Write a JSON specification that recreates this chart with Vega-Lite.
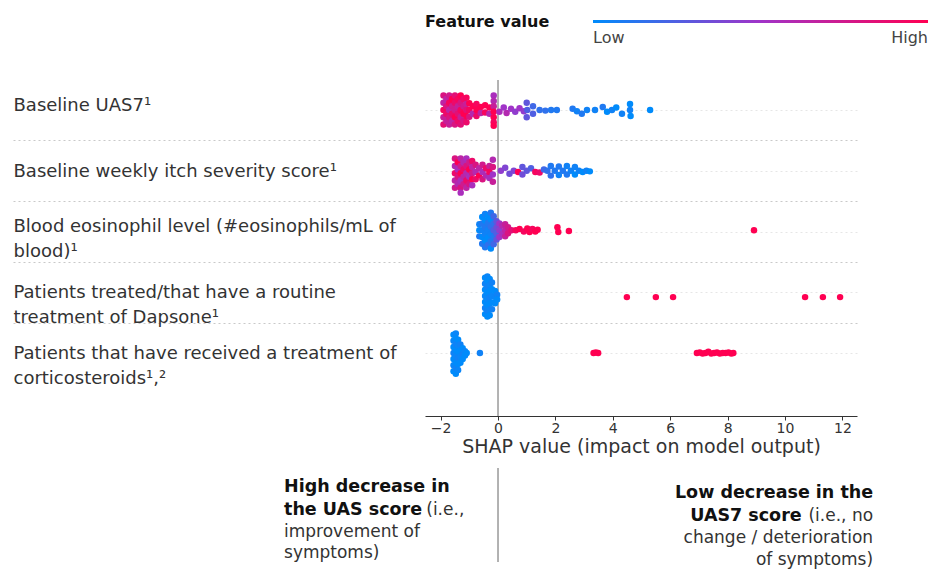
{
  "$schema": "https://vega.github.io/schema/vega-lite/v6.json",
  "width": 432,
  "height": 336,
  "autosize": {"type": "none"},
  "padding": {"left": 425, "top": 80, "right": 94, "bottom": 153},
  "background": "white",
  "config": {"view": {"stroke": null}, "font": "DejaVu Sans"},
  "datasets": {
    "shap": [
      {"shap":-1.9,"lane":-0.24,"fv":0.8},{"shap":-1.9,"lane":-0.12,"fv":0.65},{"shap":-1.9,"lane":0,"fv":0.95},{"shap":-1.9,"lane":0.12,"fv":0.7},{"shap":-1.9,"lane":0.24,"fv":0.85},
      {"shap":-1.8,"lane":-0.18,"fv":0.65},{"shap":-1.8,"lane":-0.06,"fv":0.8},{"shap":-1.8,"lane":0.06,"fv":0.9},{"shap":-1.8,"lane":0.18,"fv":0.7},
      {"shap":-1.7,"lane":-0.24,"fv":0.75},{"shap":-1.7,"lane":-0.12,"fv":0.95},{"shap":-1.7,"lane":0,"fv":0.65},{"shap":-1.7,"lane":0.12,"fv":0.8},{"shap":-1.7,"lane":0.24,"fv":0.7},
      {"shap":-1.6,"lane":-0.18,"fv":1},{"shap":-1.6,"lane":-0.06,"fv":0.75},{"shap":-1.6,"lane":0.06,"fv":0.9},{"shap":-1.6,"lane":0.18,"fv":0.65},
      {"shap":-1.5,"lane":-0.24,"fv":0.85},{"shap":-1.5,"lane":-0.12,"fv":0.9},{"shap":-1.5,"lane":0,"fv":0.75},{"shap":-1.5,"lane":0.12,"fv":1},{"shap":-1.5,"lane":0.24,"fv":0.8},
      {"shap":-1.4,"lane":-0.18,"fv":0.95},{"shap":-1.4,"lane":-0.06,"fv":0.7},{"shap":-1.4,"lane":0.06,"fv":0.85},{"shap":-1.4,"lane":0.18,"fv":0.9},
      {"shap":-1.3,"lane":-0.24,"fv":1},{"shap":-1.3,"lane":-0.12,"fv":0.8},{"shap":-1.3,"lane":0,"fv":0.95},{"shap":-1.3,"lane":0.12,"fv":0.7},{"shap":-1.3,"lane":0.24,"fv":0.85},
      {"shap":-1.2,"lane":-0.18,"fv":0.9},{"shap":-1.2,"lane":-0.06,"fv":0.75},{"shap":-1.2,"lane":0.06,"fv":1},{"shap":-1.2,"lane":0.18,"fv":0.8},
      {"shap":-1.1,"lane":-0.2,"fv":0.95},{"shap":-1.1,"lane":-0.1,"fv":0.7},{"shap":-1.1,"lane":0,"fv":0.85},{"shap":-1.1,"lane":0.1,"fv":1},{"shap":-1.1,"lane":0.2,"fv":0.9},
      {"shap":-1.0,"lane":-0.11,"fv":1},{"shap":-1.0,"lane":0,"fv":0.95},{"shap":-1.0,"lane":0.11,"fv":0.8},
      {"shap":-0.88,"lane":-0.06,"fv":1},{"shap":-0.88,"lane":0.06,"fv":0.6},
      {"shap":-0.75,"lane":-0.1,"fv":0.95},{"shap":-0.75,"lane":0,"fv":1},{"shap":-0.75,"lane":0.1,"fv":0.9},
      {"shap":-0.6,"lane":-0.05,"fv":1},{"shap":-0.6,"lane":0.05,"fv":0.65},
      {"shap":-0.45,"lane":-0.08,"fv":1},{"shap":-0.45,"lane":0.04,"fv":0.95},
      {"shap":-0.3,"lane":-0.04,"fv":1},{"shap":-0.3,"lane":0.06,"fv":0.6},
      {"shap":-0.15,"lane":-0.24,"fv":0.55},{"shap":-0.15,"lane":-0.15,"fv":0.6},{"shap":-0.15,"lane":-0.06,"fv":0.7},{"shap":-0.15,"lane":0.03,"fv":1},{"shap":-0.15,"lane":0.12,"fv":1},{"shap":-0.15,"lane":0.2,"fv":0.95},{"shap":-0.15,"lane":0.26,"fv":1},
      {"shap":0.05,"lane":0.03,"fv":0.55},{"shap":0.2,"lane":-0.04,"fv":0.5},{"shap":0.3,"lane":0.05,"fv":0.6},{"shap":0.45,"lane":-0.02,"fv":0.5},{"shap":0.6,"lane":0.03,"fv":0.45},{"shap":0.75,"lane":-0.03,"fv":0.5},{"shap":0.9,"lane":0.02,"fv":0.45},
      {"shap":1.0,"lane":-0.12,"fv":0.3},{"shap":1.02,"lane":0,"fv":0.25},{"shap":1.0,"lane":0.12,"fv":0.3},{"shap":1.22,"lane":-0.06,"fv":0.2},{"shap":1.22,"lane":0.06,"fv":0.25},
      {"shap":1.45,"lane":0,"fv":0.15},{"shap":1.65,"lane":0.01,"fv":0.15},{"shap":1.85,"lane":0,"fv":0.1},{"shap":2.05,"lane":0,"fv":0.1},
      {"shap":2.6,"lane":-0.02,"fv":0.1},{"shap":2.75,"lane":0.02,"fv":0.05},{"shap":2.92,"lane":0.06,"fv":0.1},{"shap":3.1,"lane":0,"fv":0.05},{"shap":3.38,"lane":0,"fv":0.05},
      {"shap":3.65,"lane":-0.05,"fv":0.1},{"shap":3.8,"lane":0.03,"fv":0},{"shap":3.97,"lane":0,"fv":0.05},{"shap":4.12,"lane":-0.04,"fv":0},{"shap":4.32,"lane":0.06,"fv":0.05},
      {"shap":4.6,"lane":-0.1,"fv":0},{"shap":4.6,"lane":0,"fv":0.05},{"shap":4.62,"lane":0.1,"fv":0},{"shap":5.3,"lane":0,"fv":0},

      {"shap":-1.5,"lane":0.8,"fv":0.8},{"shap":-1.5,"lane":0.92,"fv":0.6},{"shap":-1.5,"lane":1.04,"fv":0.9},{"shap":-1.5,"lane":1.16,"fv":0.65},{"shap":-1.5,"lane":1.28,"fv":0.75},
      {"shap":-1.4,"lane":0.86,"fv":1},{"shap":-1.4,"lane":0.98,"fv":0.55},{"shap":-1.4,"lane":1.1,"fv":0.8},{"shap":-1.4,"lane":1.22,"fv":0.6},
      {"shap":-1.3,"lane":0.8,"fv":0.65},{"shap":-1.3,"lane":0.92,"fv":0.75},{"shap":-1.3,"lane":1.04,"fv":1},{"shap":-1.3,"lane":1.16,"fv":0.55},{"shap":-1.3,"lane":1.28,"fv":0.8},{"shap":-1.3,"lane":1.36,"fv":0.55},
      {"shap":-1.2,"lane":0.86,"fv":0.6},{"shap":-1.2,"lane":0.98,"fv":0.9},{"shap":-1.2,"lane":1.1,"fv":0.65},{"shap":-1.2,"lane":1.22,"fv":0.75},
      {"shap":-1.1,"lane":0.8,"fv":0.55},{"shap":-1.1,"lane":0.92,"fv":0.8},{"shap":-1.1,"lane":1.04,"fv":0.6},{"shap":-1.1,"lane":1.16,"fv":0.9},{"shap":-1.1,"lane":1.28,"fv":0.65},
      {"shap":-1.0,"lane":0.86,"fv":0.75},{"shap":-1.0,"lane":0.98,"fv":1},{"shap":-1.0,"lane":1.1,"fv":0.55},{"shap":-1.0,"lane":1.22,"fv":0.8},
      {"shap":-0.9,"lane":0.84,"fv":0.9},{"shap":-0.9,"lane":0.94,"fv":0.65},{"shap":-0.9,"lane":1.04,"fv":0.75},{"shap":-0.9,"lane":1.14,"fv":1},{"shap":-0.9,"lane":1.24,"fv":0.55},
      {"shap":-0.78,"lane":0.9,"fv":0.8},{"shap":-0.78,"lane":1.02,"fv":0.6},{"shap":-0.78,"lane":1.14,"fv":0.9},
      {"shap":-0.66,"lane":0.96,"fv":0.65},{"shap":-0.66,"lane":1.08,"fv":1},
      {"shap":-0.54,"lane":0.9,"fv":0.75},{"shap":-0.54,"lane":1.02,"fv":0.55},{"shap":-0.54,"lane":1.14,"fv":0.8},
      {"shap":-0.42,"lane":0.96,"fv":0.9},{"shap":-0.42,"lane":1.08,"fv":0.6},
      {"shap":-0.3,"lane":0.92,"fv":0.7},{"shap":-0.3,"lane":1.02,"fv":0.95},{"shap":-0.3,"lane":1.12,"fv":0.55},
      {"shap":-0.18,"lane":0.82,"fv":0.6},{"shap":-0.18,"lane":0.94,"fv":0.8},{"shap":-0.18,"lane":1.06,"fv":0.5},{"shap":-0.18,"lane":1.18,"fv":0.7},
      {"shap":0.1,"lane":1.0,"fv":0.45},{"shap":0.25,"lane":0.95,"fv":0.4},{"shap":0.4,"lane":1.05,"fv":0.35},{"shap":0.55,"lane":1.0,"fv":0.4},{"shap":0.7,"lane":1.02,"fv":1},
      {"shap":0.85,"lane":0.94,"fv":0.3},{"shap":0.85,"lane":1.06,"fv":0.35},{"shap":1.0,"lane":1.0,"fv":0.3},{"shap":1.15,"lane":0.96,"fv":0.25},{"shap":1.3,"lane":1.02,"fv":0.95},{"shap":1.45,"lane":1.03,"fv":0.9},{"shap":1.6,"lane":0.98,"fv":0.2},
      {"shap":1.72,"lane":1.0,"fv":0.15},{"shap":1.84,"lane":0.92,"fv":0.1},{"shap":1.84,"lane":1.08,"fv":0.15},{"shap":1.98,"lane":1.0,"fv":0.1},{"shap":2.12,"lane":0.93,"fv":0.1},{"shap":2.12,"lane":1.07,"fv":0.05},
      {"shap":2.26,"lane":1.0,"fv":0.1},{"shap":2.4,"lane":0.92,"fv":0.05},{"shap":2.4,"lane":1.06,"fv":0.1},{"shap":2.54,"lane":1.0,"fv":0.05},{"shap":2.68,"lane":0.94,"fv":0.05},{"shap":2.68,"lane":1.06,"fv":0},
      {"shap":2.82,"lane":1.0,"fv":0.05},{"shap":2.95,"lane":1.02,"fv":0},{"shap":3.08,"lane":1.0,"fv":0.05},{"shap":3.2,"lane":1.01,"fv":0},

      {"shap":-0.65,"lane":1.88,"fv":0.05},{"shap":-0.65,"lane":1.98,"fv":0},{"shap":-0.65,"lane":2.08,"fv":0.1},
      {"shap":-0.55,"lane":1.76,"fv":0},{"shap":-0.55,"lane":1.87,"fv":0.1},{"shap":-0.55,"lane":1.98,"fv":0.05},{"shap":-0.55,"lane":2.09,"fv":0},{"shap":-0.55,"lane":2.2,"fv":0.1},
      {"shap":-0.45,"lane":1.71,"fv":0.05},{"shap":-0.45,"lane":1.82,"fv":0},{"shap":-0.45,"lane":1.93,"fv":0.1},{"shap":-0.45,"lane":2.04,"fv":0.05},{"shap":-0.45,"lane":2.15,"fv":0},{"shap":-0.45,"lane":2.26,"fv":0.1},
      {"shap":-0.35,"lane":1.74,"fv":0},{"shap":-0.35,"lane":1.86,"fv":0.1},{"shap":-0.35,"lane":1.98,"fv":0.05},{"shap":-0.35,"lane":2.1,"fv":0},{"shap":-0.35,"lane":2.22,"fv":0.15},
      {"shap":-0.25,"lane":1.69,"fv":0.1},{"shap":-0.25,"lane":1.8,"fv":0},{"shap":-0.25,"lane":1.92,"fv":0.15},{"shap":-0.25,"lane":2.04,"fv":0.05},{"shap":-0.25,"lane":2.16,"fv":0.1},{"shap":-0.25,"lane":2.28,"fv":0},
      {"shap":-0.15,"lane":1.75,"fv":0.2},{"shap":-0.15,"lane":1.87,"fv":0.15},{"shap":-0.15,"lane":1.98,"fv":0.25},{"shap":-0.15,"lane":2.09,"fv":0.1},{"shap":-0.15,"lane":2.21,"fv":0.2},
      {"shap":-0.05,"lane":1.83,"fv":0.3},{"shap":-0.05,"lane":1.93,"fv":0.35},{"shap":-0.05,"lane":2.03,"fv":0.25},{"shap":-0.05,"lane":2.13,"fv":0.3},
      {"shap":0.05,"lane":1.87,"fv":0.5},{"shap":0.05,"lane":1.98,"fv":0.45},{"shap":0.05,"lane":2.09,"fv":0.5},{"shap":0.15,"lane":1.9,"fv":0.6},{"shap":0.15,"lane":2.04,"fv":0.55},
      {"shap":0.25,"lane":1.88,"fv":0.7},{"shap":0.25,"lane":1.98,"fv":0.65},{"shap":0.25,"lane":2.08,"fv":0.7},{"shap":0.35,"lane":1.93,"fv":0.75},{"shap":0.35,"lane":2.03,"fv":0.8},{"shap":0.47,"lane":1.98,"fv":0.85},
      {"shap":0.62,"lane":1.98,"fv":0.95},{"shap":0.75,"lane":1.96,"fv":1},{"shap":0.9,"lane":2.0,"fv":0.95},{"shap":1.02,"lane":1.95,"fv":1},{"shap":1.1,"lane":2.01,"fv":1},{"shap":1.2,"lane":1.96,"fv":0.95},
      {"shap":1.3,"lane":2.0,"fv":1},{"shap":1.38,"lane":1.97,"fv":1},{"shap":2.07,"lane":1.93,"fv":1},{"shap":2.1,"lane":2.01,"fv":1},{"shap":2.47,"lane":1.99,"fv":1},{"shap":8.92,"lane":1.98,"fv":1},

      {"shap":-0.45,"lane":2.76,"fv":0},{"shap":-0.45,"lane":2.86,"fv":0.05},{"shap":-0.45,"lane":2.96,"fv":0},{"shap":-0.45,"lane":3.06,"fv":0.03},{"shap":-0.45,"lane":3.16,"fv":0},{"shap":-0.45,"lane":3.26,"fv":0.05},{"shap":-0.45,"lane":3.36,"fv":0},
      {"shap":-0.37,"lane":2.74,"fv":0.03},{"shap":-0.37,"lane":2.81,"fv":0},{"shap":-0.37,"lane":2.91,"fv":0.05},{"shap":-0.37,"lane":3.01,"fv":0},{"shap":-0.37,"lane":3.11,"fv":0.03},{"shap":-0.37,"lane":3.21,"fv":0},{"shap":-0.37,"lane":3.31,"fv":0.05},{"shap":-0.37,"lane":3.4,"fv":0},
      {"shap":-0.29,"lane":2.78,"fv":0},{"shap":-0.29,"lane":2.88,"fv":0.03},{"shap":-0.29,"lane":2.98,"fv":0},{"shap":-0.29,"lane":3.08,"fv":0.05},{"shap":-0.29,"lane":3.18,"fv":0},{"shap":-0.29,"lane":3.28,"fv":0.03},{"shap":-0.29,"lane":3.38,"fv":0},
      {"shap":-0.21,"lane":2.84,"fv":0.05},{"shap":-0.21,"lane":2.95,"fv":0},{"shap":-0.21,"lane":3.06,"fv":0.03},{"shap":-0.21,"lane":3.17,"fv":0},{"shap":-0.21,"lane":3.28,"fv":0.05},
      {"shap":-0.1,"lane":2.98,"fv":0},{"shap":-0.1,"lane":3.08,"fv":0.03},{"shap":-0.1,"lane":3.18,"fv":0},{"shap":-0.03,"lane":3.04,"fv":0.05},{"shap":-0.03,"lane":3.12,"fv":0},
      {"shap":4.49,"lane":3.08,"fv":1},{"shap":5.5,"lane":3.08,"fv":1},{"shap":6.1,"lane":3.08,"fv":1},{"shap":10.7,"lane":3.08,"fv":1},{"shap":11.32,"lane":3.08,"fv":1},{"shap":11.92,"lane":3.08,"fv":1},

      {"shap":-1.55,"lane":3.7,"fv":0},{"shap":-1.55,"lane":3.8,"fv":0.03},{"shap":-1.55,"lane":3.9,"fv":0},{"shap":-1.55,"lane":4.0,"fv":0.05},{"shap":-1.55,"lane":4.1,"fv":0},{"shap":-1.55,"lane":4.2,"fv":0.03},{"shap":-1.55,"lane":4.3,"fv":0},
      {"shap":-1.47,"lane":3.68,"fv":0.03},{"shap":-1.47,"lane":3.76,"fv":0},{"shap":-1.47,"lane":3.86,"fv":0.05},{"shap":-1.47,"lane":3.96,"fv":0},{"shap":-1.47,"lane":4.06,"fv":0.03},{"shap":-1.47,"lane":4.16,"fv":0},{"shap":-1.47,"lane":4.26,"fv":0.05},{"shap":-1.47,"lane":4.34,"fv":0},
      {"shap":-1.39,"lane":3.78,"fv":0},{"shap":-1.39,"lane":3.88,"fv":0.03},{"shap":-1.39,"lane":3.98,"fv":0},{"shap":-1.39,"lane":4.08,"fv":0.05},{"shap":-1.39,"lane":4.18,"fv":0},{"shap":-1.39,"lane":4.28,"fv":0.03},
      {"shap":-1.31,"lane":3.86,"fv":0.05},{"shap":-1.31,"lane":3.96,"fv":0},{"shap":-1.31,"lane":4.06,"fv":0.03},{"shap":-1.31,"lane":4.16,"fv":0},
      {"shap":-1.23,"lane":3.92,"fv":0},{"shap":-1.23,"lane":4.02,"fv":0.05},{"shap":-1.23,"lane":4.1,"fv":0},
      {"shap":-1.15,"lane":3.97,"fv":0.03},{"shap":-1.15,"lane":4.04,"fv":0},{"shap":-1.09,"lane":4.0,"fv":0},{"shap":-0.63,"lane":4.0,"fv":0.05},
      {"shap":3.33,"lane":4.0,"fv":1},{"shap":3.41,"lane":3.99,"fv":1},{"shap":3.49,"lane":4.0,"fv":1},
      {"shap":6.93,"lane":4.0,"fv":1},{"shap":7.03,"lane":3.99,"fv":1},{"shap":7.13,"lane":4.01,"fv":1},{"shap":7.23,"lane":4.0,"fv":1},{"shap":7.33,"lane":3.98,"fv":1},{"shap":7.43,"lane":4.01,"fv":1},{"shap":7.53,"lane":4.0,"fv":1},
      {"shap":7.63,"lane":3.99,"fv":1},{"shap":7.73,"lane":4.01,"fv":1},{"shap":7.83,"lane":4.0,"fv":1},{"shap":7.93,"lane":4.0,"fv":1},{"shap":8.03,"lane":3.99,"fv":1},{"shap":8.13,"lane":4.01,"fv":1},{"shap":8.2,"lane":4.0,"fv":1}
    ]
  },
  "layer": [
    {
      "data": {"values": [{}]},
      "mark": {"type": "rule", "color": "#9a9a9a", "strokeWidth": 1.5},
      "encoding": {"x": {"datum": 0}}
    },
    {
      "data": {"name": "shap"},
      "mark": {"type": "circle", "size": 42, "opacity": 1},
      "encoding": {
        "x": {
          "field": "shap", "type": "quantitative",
          "scale": {"domain": [-2.544, 12.509], "nice": false, "zero": false},
          "axis": {
            "values": [-2, 0, 2, 4, 6, 8, 10, 12],
            "title": "SHAP value (impact on model output)",
            "grid": false, "domainColor": "#333", "domainWidth": 1,
            "tickColor": "#333", "tickSize": 4,
            "labelFont": "DejaVu Sans", "labelFontSize": 14, "labelColor": "#333", "labelPadding": 1,
            "titleFont": "DejaVu Sans", "titleFontSize": 19, "titleFontWeight": "normal", "titleColor": "#333", "titlePadding": 2
          }
        },
        "y": {
          "field": "lane", "type": "quantitative",
          "scale": {"domain": [-0.494, 5.037], "reverse": true, "nice": false, "zero": false},
          "axis": {
            "values": [0, 0.5, 1, 1.5, 2, 2.5, 3, 3.5, 4],
            "title": null, "domain": false,
            "grid": true, "gridDash": [2, 3],
            "gridColor": {"condition": {"test": "datum.value % 1 != 0", "value": "#c9c9c9"}, "value": "#e6e6e6"},
            "tickSize": 412, "tickDash": [2, 3], "tickColor": "#c9c9c9",
            "tickOpacity": {"condition": {"test": "datum.value % 1 != 0", "value": 1}, "value": 0},
            "labelExpr": "datum.value == 0 ? 'Baseline UAS7¹' : datum.value == 1 ? 'Baseline weekly itch severity score¹' : datum.value == 2 ? ['Blood eosinophil level (#eosinophils/mL of', 'blood)¹'] : datum.value == 3 ? ['Patients treated/that have a routine', 'treatment of Dapsone¹'] : datum.value == 4 ? ['Patients that have received a treatment of', 'corticosteroids¹,²'] : ''",
            "labelAlign": "left", "labelBaseline": "alphabetic", "labelPadding": 0,
            "labelOffset": {"condition": {"test": "datum.value == 0 || datum.value == 2", "value": 0}, "value": 5.5},
            "labelFont": "DejaVu Sans", "labelFontSize": 18, "labelColor": "#333", "labelLineHeight": 25,
            "labelOverlap": false, "labelBound": false, "labelFlush": false, "labelLimit": 600
          }
        },
        "color": {
          "field": "fv", "type": "quantitative",
          "scale": {"domain": [0, 0.5, 1], "range": ["#008bfb", "#a033c8", "#ff0052"], "interpolate": "rgb"},
          "legend": {
            "title": "Feature value", "orient": "none", "legendX": 0, "legendY": -60,
            "direction": "horizontal", "gradientLength": 335, "gradientThickness": 3, "gradientStrokeWidth": 0,
            "titleOrient": "left", "titleFont": "DejaVu Sans", "titleFontSize": 16, "titleFontWeight": "bold", "titleColor": "#111", "titlePadding": 43,
            "values": [0, 1], "labelExpr": "datum.value == 0 ? 'Low' : 'High'",
            "labelAlign": "right",
            "labelFont": "DejaVu Sans", "labelFontSize": 16, "labelColor": "#444", "labelOffset": 7
          }
        }
      }
    },
    {
      "data": {"values": [{}]},
      "mark": {"type": "rule", "color": "#999", "strokeWidth": 1.5},
      "encoding": {"x": {"datum": 0}, "y": {"datum": 5.893}, "y2": {"datum": 7.44}}
    },
    {
      "data": {"values": [{}]},
      "mark": {"type": "text", "text": ["High decrease in", "the UAS score"], "align": "left", "baseline": "alphabetic", "font": "DejaVu Sans", "fontWeight": "bold", "fontSize": 17.5, "lineHeight": 23, "color": "#111"},
      "encoding": {"x": {"datum": -7.456}, "y": {"datum": 6.288}}
    },
    {
      "data": {"values": [{}]},
      "mark": {"type": "text", "text": "(i.e.,", "align": "left", "baseline": "alphabetic", "font": "DejaVu Sans", "fontSize": 17, "color": "#333"},
      "encoding": {"x": {"datum": -2.5}, "y": {"datum": 6.666}}
    },
    {
      "data": {"values": [{}]},
      "mark": {"type": "text", "text": ["improvement of", "symptoms)"], "align": "left", "baseline": "alphabetic", "font": "DejaVu Sans", "fontSize": 17, "lineHeight": 21, "color": "#333"},
      "encoding": {"x": {"datum": -7.456}, "y": {"datum": 7.029}}
    },
    {
      "data": {"values": [{}]},
      "mark": {"type": "text", "text": "Low decrease in the", "align": "right", "baseline": "alphabetic", "font": "DejaVu Sans", "fontWeight": "bold", "fontSize": 17.5, "color": "#111"},
      "encoding": {"x": {"datum": 13.07}, "y": {"datum": 6.387}}
    },
    {
      "data": {"values": [{}]},
      "mark": {"type": "text", "text": "UAS7 score", "align": "right", "baseline": "alphabetic", "font": "DejaVu Sans", "fontWeight": "bold", "fontSize": 17.5, "color": "#111"},
      "encoding": {"x": {"datum": 10.58}, "y": {"datum": 6.765}}
    },
    {
      "data": {"values": [{}]},
      "mark": {"type": "text", "text": ["(i.e., no", "change / deterioration", "of symptoms)"], "align": "right", "baseline": "alphabetic", "font": "DejaVu Sans", "fontSize": 17, "lineHeight": 22, "color": "#333"},
      "encoding": {"x": {"datum": 13.07}, "y": {"datum": 6.765}}
    }
  ]
}
